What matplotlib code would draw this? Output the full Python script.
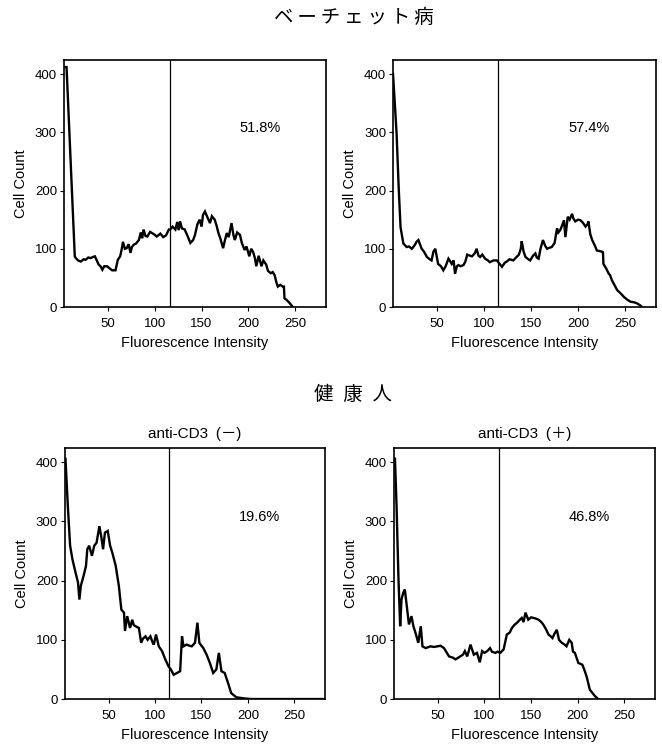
import matplotlib
matplotlib.use("Agg")
import matplotlib.pyplot as plt

plt.rcParams["font.family"] = ["Liberation Sans", "Noto Sans CJK JP", "DejaVu Sans"]

# Behcet's disease, left panel
bl_x = [3, 5.7, 14.5, 15.6, 18, 21, 24, 26, 29, 31.5, 34, 36, 38, 40, 42, 44, 46, 49, 52, 54.5,
        58, 60.5, 63, 64.5, 66, 68, 70, 72, 74, 75.5, 77.5, 80, 83, 85, 86.5, 88, 90, 92, 95, 97,
        100, 102, 106, 109, 112, 115, 116.5, 119, 122, 124, 125.5, 127, 129, 132, 135, 138, 141,
        143, 145.5, 148, 150, 151.5, 153.6, 156, 159, 161, 164, 166, 168, 170, 173, 175, 177, 179,
        182, 184, 185.5, 188, 191, 193, 196, 198, 201, 203, 205, 207, 208.5, 211, 214, 216, 219,
        221, 224, 226, 228, 230, 231.5, 234, 237, 238, 238.6, 241, 244, 247.5]
bl_y = [412, 412, 87, 84, 80, 78, 82, 81, 85, 84, 86, 87, 80, 73, 70, 64, 70, 70, 66, 63,
        63, 81, 87, 98, 112, 100, 101, 108, 93, 103, 107, 109, 115, 128, 118, 133, 122, 121, 129, 127,
        124, 121, 126, 120, 123, 133, 133, 138, 133, 146, 132, 147, 135, 133, 122, 110, 115,
        124, 142, 150, 138, 158, 164, 155, 144, 156, 150, 140, 127, 118, 101, 115, 127, 120,
        144, 124, 115, 128, 124, 110, 98, 104, 87, 100, 95, 84, 70, 88, 70, 80, 73,
        62, 58, 60, 55, 42, 35, 38, 35, 35, 15, 12, 7, 0]

# Behcet's disease, right panel
br_x = [3, 6.8, 9, 11, 14, 17.5, 20, 23, 26, 28, 30, 33.5, 36, 39, 42, 44, 46, 48, 51, 54,
        56.5, 59, 62, 64, 65.5, 67.5, 69, 71, 72.5, 75, 78, 80, 82, 85, 87, 90, 92, 94, 95.7,
        98, 101, 104, 106, 110, 113.5, 116, 119, 122, 124, 127, 131, 134, 137, 139, 140, 142,
        144, 147, 149, 152, 154.5, 156, 158, 160, 162.6, 165, 167, 170, 172, 175, 177.6, 179,
        181, 183, 185, 186.5, 189, 191, 193.6, 195, 197, 200, 202.5, 205, 208, 210, 211, 213,
        215, 218, 220, 223, 225.6, 226.5, 227, 230, 232.7, 234, 236, 238, 241.6, 245, 249,
        252, 256, 260, 263, 266, 268]
br_y = [400, 298, 206, 137, 109, 103, 104, 100, 106, 112, 115, 100, 95, 86, 82, 80, 95, 100, 74, 70,
        63, 70, 83, 78, 74, 80, 57, 70, 72, 70, 72, 78, 90, 88, 87, 92, 100, 88, 86,
        90, 83, 80, 77, 80, 80, 75, 69, 76, 78, 82, 80, 85, 90, 100, 113, 95,
        86, 82, 80, 88, 92, 85, 83, 100, 115, 105, 100, 102, 103, 110, 135, 128,
        132, 140, 149, 120, 155, 150, 160, 152, 147, 150, 149, 145, 138, 142, 147, 125,
        115, 105, 97, 96, 95, 94, 74, 66, 57, 55, 46, 40, 29, 24, 17,
        13, 9, 8, 6, 3, 0]

# healthy donor, anti-CD3 (-)
hn_x = [3.5, 6, 8.5, 11, 14, 17, 18.5, 20, 23, 25.6, 27, 29, 32, 34.5, 37, 40, 42, 44, 46, 49,
        51.6, 54, 57.6, 61, 63.7, 66.5, 67.6, 70, 73, 75.4, 77, 79, 82.6, 85, 87, 89.7, 92, 95,
        97, 98.6, 101, 104, 107.5, 111, 114.6, 117, 120, 123.5, 127, 129, 130.6, 134, 137, 139.5,
        143, 145.6, 147.7, 150, 152, 155.5, 159, 162.6, 166, 168.7, 171.5, 175, 178.6, 182,
        187.5, 196, 203.5, 280]
hn_y = [406, 327, 259, 236, 216, 197, 168, 191, 208, 225, 253, 259, 242, 259, 264, 292, 275, 253, 281, 284,
        259, 247, 225, 191, 151, 146, 115, 140, 120, 134, 125, 123, 120, 95, 102, 106, 100, 106,
        97, 92, 109, 89, 81, 67, 55, 50, 41, 44, 47, 106, 89, 92, 90, 89,
        95, 129, 95, 90, 86, 75, 61, 44, 50, 78, 47, 44, 27, 10,
        3, 1, 0, 0]

# healthy donor, anti-CD3 (+)
hp_x = [4, 5.7, 7.8, 9.6, 11, 13, 14.6, 16.7, 19, 21.7, 23.8, 26, 29, 31.7, 33.5, 37, 42, 46, 49.5,
        53, 56.6, 62, 66, 69, 74, 77, 79, 81.5, 83, 85, 88.6, 92, 95, 97.5, 100, 103, 106, 108,
        111.7, 114, 117, 120.6, 124, 127, 129.5, 132, 135, 138, 140, 142, 144, 147, 150, 152.7,
        155, 158, 161, 163, 166, 168.7, 171, 173, 175, 177.6, 180, 183, 186, 188, 191, 193.6,
        195, 197, 200.7, 205, 207, 209.6, 213, 218.5, 222]
hp_y = [406, 327, 202, 123, 168, 180, 185, 157, 126, 140, 123, 112, 95, 123, 89, 86, 89, 88, 89,
        90, 86, 72, 70, 67, 72, 75, 81, 72, 80, 92, 75, 78, 62, 81, 78, 81, 86, 80,
        78, 80, 78, 84, 109, 112, 120, 125, 129, 134, 137, 130, 146, 134, 138, 137,
        136, 134, 130, 126, 118, 109, 106, 103, 110, 117, 100, 95, 92, 89, 100, 95,
        80, 78, 61, 58, 50, 38, 16, 5, 0]

panel_x = [bl_x, br_x, hn_x, hp_x]
panel_y = [bl_y, br_y, hn_y, hp_y]
pct_labels = ["51.8%", "57.4%", "19.6%", "46.8%"]
subtitles = ["", "", "anti-CD3\u2002(\uff0d)", "anti-CD3\u2002(\uff0b)"]
gate = [116, 115, 115, 116]
xticks = [50, 100, 150, 200, 250]
yticks = [0, 100, 200, 300, 400]

fig = plt.figure(figsize=(6.62, 7.45), dpi=100)
rects = [[0.0967, 0.5879, 0.3958, 0.3315],
         [0.5937, 0.5879, 0.3973, 0.3315],
         [0.0982, 0.0617, 0.3927, 0.3369],
         [0.5952, 0.0617, 0.3943, 0.3369]]

for i in range(4):
    ax = fig.add_axes(rects[i])
    ax.plot(panel_x[i], panel_y[i], color="black", lw=1.7, solid_joinstyle="miter")
    ax.axvline(gate[i], color="black", lw=0.9)
    ax.set_xlim(3, 283)
    ax.set_ylim(0, 424)
    ax.set_xticks(xticks)
    ax.set_yticks(yticks)
    ax.tick_params(direction="out", length=3, width=0.8, labelsize=9.5)
    ax.tick_params(axis="x", pad=5)
    ax.tick_params(axis="y", pad=2)
    for s in ax.spines.values():
        s.set_linewidth(1.2)
    ax.set_xlabel("Fluorescence Intensity", fontsize=10.5, labelpad=4)
    ax.set_ylabel("Cell Count", fontsize=10.5, labelpad=5)
    ax.text(212, 307, pct_labels[i], ha="center", va="center", fontsize=10.5)
    if subtitles[i]:
        ax.set_title(subtitles[i], fontsize=11, pad=7)

fig.text(0.535, 0.976, "\u2009".join("ベーチェット病"), ha="center", va="center", fontsize=14)
fig.text(0.533, 0.47, "\u2002".join("健康人"), ha="center", va="center", fontsize=14)

fig.savefig("out.png", dpi=100)
